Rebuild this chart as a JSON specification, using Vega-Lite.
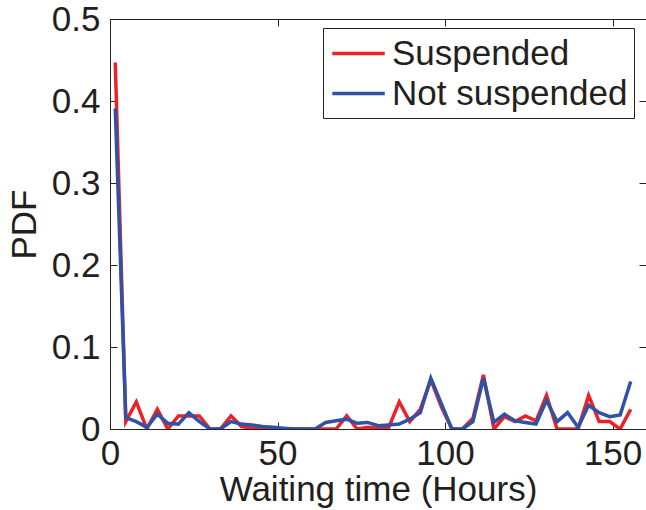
{
  "$schema": "https://vega.github.io/schema/vega-lite/v6.json",
  "autosize": {"type": "none"},
  "padding": {"left": 110, "top": 19, "right": 0, "bottom": 81},
  "width": 536,
  "height": 410,
  "background": "white",
  "config": {
    "font": "Liberation Sans",
    "view": {"stroke": null},
    "axis": {
      "grid": false,
      "domainColor": "#222222",
      "domainWidth": 1,
      "tickColor": "#222222",
      "tickWidth": 1,
      "tickSize": -7,
      "labelFlush": false,
      "labelOverlap": false,
      "labelFont": "Liberation Sans",
      "labelFontSize": 35,
      "labelColor": "#231f20",
      "titleFont": "Liberation Sans",
      "titleFontSize": 35,
      "titleFontWeight": "normal",
      "titleColor": "#231f20"
    }
  },
  "data": {"values": [
    {"x": 1.57, "PDF": 0.447, "series": "Suspended"},
    {"x": 4.71, "PDF": 0.009, "series": "Suspended"},
    {"x": 7.85, "PDF": 0.033, "series": "Suspended"},
    {"x": 10.99, "PDF": 0.0, "series": "Suspended"},
    {"x": 14.13, "PDF": 0.024, "series": "Suspended"},
    {"x": 17.27, "PDF": 0.0, "series": "Suspended"},
    {"x": 20.41, "PDF": 0.016, "series": "Suspended"},
    {"x": 23.55, "PDF": 0.016, "series": "Suspended"},
    {"x": 26.69, "PDF": 0.016, "series": "Suspended"},
    {"x": 29.83, "PDF": 0.0, "series": "Suspended"},
    {"x": 32.97, "PDF": 0.0, "series": "Suspended"},
    {"x": 36.11, "PDF": 0.016, "series": "Suspended"},
    {"x": 39.25, "PDF": 0.003, "series": "Suspended"},
    {"x": 42.39, "PDF": 0.001, "series": "Suspended"},
    {"x": 45.53, "PDF": 0.0, "series": "Suspended"},
    {"x": 48.67, "PDF": 0.0, "series": "Suspended"},
    {"x": 51.81, "PDF": 0.0, "series": "Suspended"},
    {"x": 54.95, "PDF": 0.0, "series": "Suspended"},
    {"x": 58.09, "PDF": 0.0, "series": "Suspended"},
    {"x": 61.23, "PDF": 0.0, "series": "Suspended"},
    {"x": 64.37, "PDF": 0.0, "series": "Suspended"},
    {"x": 67.51, "PDF": 0.0, "series": "Suspended"},
    {"x": 70.65, "PDF": 0.016, "series": "Suspended"},
    {"x": 73.79, "PDF": 0.0, "series": "Suspended"},
    {"x": 76.93, "PDF": 0.002, "series": "Suspended"},
    {"x": 80.07, "PDF": 0.001, "series": "Suspended"},
    {"x": 83.21, "PDF": 0.002, "series": "Suspended"},
    {"x": 86.35, "PDF": 0.033, "series": "Suspended"},
    {"x": 89.49, "PDF": 0.009, "series": "Suspended"},
    {"x": 92.63, "PDF": 0.024, "series": "Suspended"},
    {"x": 95.77, "PDF": 0.06, "series": "Suspended"},
    {"x": 98.91, "PDF": 0.027, "series": "Suspended"},
    {"x": 102.05, "PDF": 0.0, "series": "Suspended"},
    {"x": 105.19, "PDF": 0.0, "series": "Suspended"},
    {"x": 108.33, "PDF": 0.013, "series": "Suspended"},
    {"x": 111.47, "PDF": 0.066, "series": "Suspended"},
    {"x": 114.61, "PDF": 0.0, "series": "Suspended"},
    {"x": 117.75, "PDF": 0.015, "series": "Suspended"},
    {"x": 120.89, "PDF": 0.009, "series": "Suspended"},
    {"x": 124.03, "PDF": 0.016, "series": "Suspended"},
    {"x": 127.17, "PDF": 0.01, "series": "Suspended"},
    {"x": 130.31, "PDF": 0.041, "series": "Suspended"},
    {"x": 133.45, "PDF": 0.0, "series": "Suspended"},
    {"x": 136.59, "PDF": 0.0, "series": "Suspended"},
    {"x": 139.73, "PDF": 0.0, "series": "Suspended"},
    {"x": 142.87, "PDF": 0.041, "series": "Suspended"},
    {"x": 146.01, "PDF": 0.009, "series": "Suspended"},
    {"x": 149.15, "PDF": 0.009, "series": "Suspended"},
    {"x": 152.29, "PDF": 0.0, "series": "Suspended"},
    {"x": 155.43, "PDF": 0.024, "series": "Suspended"},
    {"x": 1.57, "PDF": 0.391, "series": "Not suspended"},
    {"x": 4.71, "PDF": 0.014, "series": "Not suspended"},
    {"x": 7.85, "PDF": 0.009, "series": "Not suspended"},
    {"x": 10.99, "PDF": 0.002, "series": "Not suspended"},
    {"x": 14.13, "PDF": 0.018, "series": "Not suspended"},
    {"x": 17.27, "PDF": 0.007, "series": "Not suspended"},
    {"x": 20.41, "PDF": 0.006, "series": "Not suspended"},
    {"x": 23.55, "PDF": 0.02, "series": "Not suspended"},
    {"x": 26.69, "PDF": 0.009, "series": "Not suspended"},
    {"x": 29.83, "PDF": 0.0, "series": "Not suspended"},
    {"x": 32.97, "PDF": 0.0, "series": "Not suspended"},
    {"x": 36.11, "PDF": 0.009, "series": "Not suspended"},
    {"x": 39.25, "PDF": 0.006, "series": "Not suspended"},
    {"x": 42.39, "PDF": 0.005, "series": "Not suspended"},
    {"x": 45.53, "PDF": 0.003, "series": "Not suspended"},
    {"x": 48.67, "PDF": 0.002, "series": "Not suspended"},
    {"x": 51.81, "PDF": 0.001, "series": "Not suspended"},
    {"x": 54.95, "PDF": 0.0, "series": "Not suspended"},
    {"x": 58.09, "PDF": 0.0, "series": "Not suspended"},
    {"x": 61.23, "PDF": 0.0, "series": "Not suspended"},
    {"x": 64.37, "PDF": 0.008, "series": "Not suspended"},
    {"x": 67.51, "PDF": 0.01, "series": "Not suspended"},
    {"x": 70.65, "PDF": 0.012, "series": "Not suspended"},
    {"x": 73.79, "PDF": 0.007, "series": "Not suspended"},
    {"x": 76.93, "PDF": 0.008, "series": "Not suspended"},
    {"x": 80.07, "PDF": 0.004, "series": "Not suspended"},
    {"x": 83.21, "PDF": 0.005, "series": "Not suspended"},
    {"x": 86.35, "PDF": 0.006, "series": "Not suspended"},
    {"x": 89.49, "PDF": 0.012, "series": "Not suspended"},
    {"x": 92.63, "PDF": 0.02, "series": "Not suspended"},
    {"x": 95.77, "PDF": 0.062, "series": "Not suspended"},
    {"x": 98.91, "PDF": 0.031, "series": "Not suspended"},
    {"x": 102.05, "PDF": 0.0, "series": "Not suspended"},
    {"x": 105.19, "PDF": 0.0, "series": "Not suspended"},
    {"x": 108.33, "PDF": 0.009, "series": "Not suspended"},
    {"x": 111.47, "PDF": 0.062, "series": "Not suspended"},
    {"x": 114.61, "PDF": 0.008, "series": "Not suspended"},
    {"x": 117.75, "PDF": 0.018, "series": "Not suspended"},
    {"x": 120.89, "PDF": 0.01, "series": "Not suspended"},
    {"x": 124.03, "PDF": 0.008, "series": "Not suspended"},
    {"x": 127.17, "PDF": 0.006, "series": "Not suspended"},
    {"x": 130.31, "PDF": 0.035, "series": "Not suspended"},
    {"x": 133.45, "PDF": 0.009, "series": "Not suspended"},
    {"x": 136.59, "PDF": 0.02, "series": "Not suspended"},
    {"x": 139.73, "PDF": 0.002, "series": "Not suspended"},
    {"x": 142.87, "PDF": 0.029, "series": "Not suspended"},
    {"x": 146.01, "PDF": 0.02, "series": "Not suspended"},
    {"x": 149.15, "PDF": 0.015, "series": "Not suspended"},
    {"x": 152.29, "PDF": 0.017, "series": "Not suspended"},
    {"x": 155.43, "PDF": 0.058, "series": "Not suspended"}
  ]},
  "layer": [
    {
      "mark": {"type": "line", "strokeWidth": 3.5, "strokeJoin": "miter", "clip": true},
      "encoding": {
        "x": {
          "field": "x", "type": "quantitative",
          "scale": {"domain": [0, 160], "nice": false, "zero": false},
          "axis": {"values": [0, 50, 100, 150], "title": "Waiting time (Hours)", "labelPadding": 14, "titlePadding": 1}
        },
        "y": {
          "field": "PDF", "type": "quantitative",
          "scale": {"domain": [0, 0.5], "nice": false},
          "axis": {"values": [0, 0.1, 0.2, 0.3, 0.4, 0.5], "format": "~g", "title": "PDF", "labelPadding": 17, "titlePadding": 9}
        },
        "color": {
          "field": "series", "type": "nominal",
          "scale": {"domain": ["Suspended", "Not suspended"], "range": ["#ec2227", "#2f52a4"]},
          "legend": {
            "title": null,
            "orient": "none",
            "legendX": 213,
            "legendY": 9,
            "symbolType": "M-1.5,0H1.5",
            "symbolSize": 1225,
            "symbolStrokeWidth": 3.5,
            "symbolOffset": 10,
            "labelFont": "Liberation Sans",
            "labelFontSize": 35,
            "labelColor": "#231f20",
            "labelLimit": 0,
            "labelOffset": 14,
            "rowPadding": 2,
            "padding": 6,
            "strokeColor": "#222222",
            "fillColor": "white"
          }
        }
      }
    },
    {
      "mark": {"type": "point", "opacity": 0},
      "encoding": {
        "x": {
          "field": "x", "type": "quantitative",
          "axis": {"orient": "top", "values": [0, 50, 100, 150], "labels": false, "title": null}
        },
        "y": {
          "field": "PDF", "type": "quantitative",
          "axis": {"orient": "right", "values": [0, 0.1, 0.2, 0.3, 0.4, 0.5], "labels": false, "title": null}
        }
      }
    }
  ],
  "resolve": {"axis": {"x": "independent", "y": "independent"}}
}
